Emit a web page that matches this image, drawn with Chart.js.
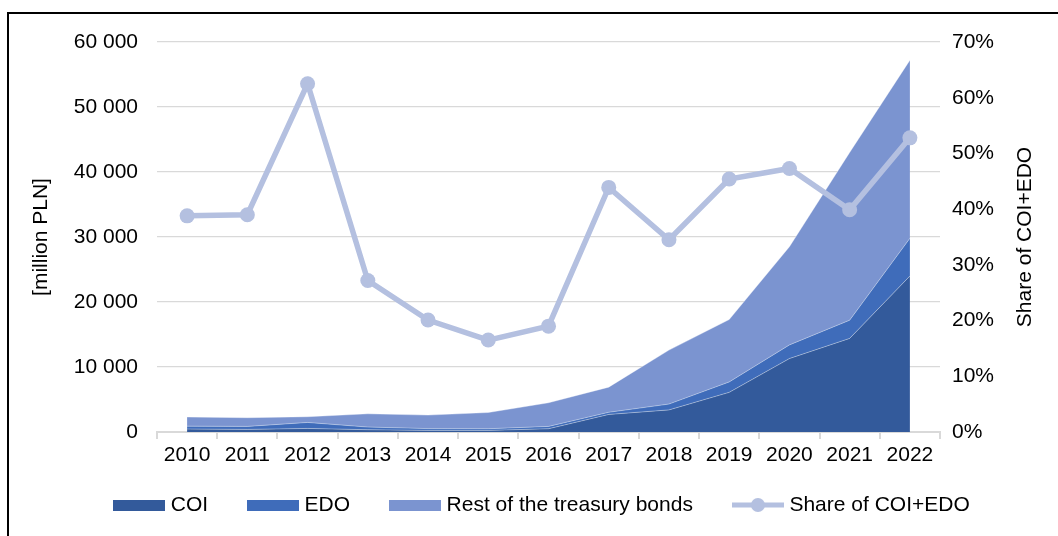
<!DOCTYPE html>
<html>
<head>
<meta charset="utf-8">
<script src="https://cdn.jsdelivr.net/npm/chart.js@4.4.0/dist/chart.umd.min.js"></script>
<style>
    html, body { margin: 0; padding: 0; background: #fff; }
    #wrap { position: relative; width: 1058px; height: 536px; overflow: hidden; }
    #frame { position: absolute; left: 7px; top: 12px; right: -10px; bottom: -10px;
             border-left: 2px solid #000; border-top: 2px solid #000; }
    canvas { position: absolute; left: 0; top: 0; }
</style>
</head>
<body>
<div id="wrap">
    <div id="frame"></div>
    <canvas id="bondsChart" width="1058" height="536"></canvas>
</div>
<script>
const years = ['2010', '2011', '2012', '2013', '2014', '2015', '2016', '2017', '2018', '2019', '2020', '2021', '2022'];

// million PLN
const coiValues = [450, 400, 550, 350, 250, 250, 500, 2700, 3400, 6100, 11300, 14400, 24000];
const edoValues = [440, 460, 920, 410, 270, 250, 360, 330, 900, 1600, 2100, 2800, 5800];
const restValues = [1410, 1340, 880, 2040, 2080, 2500, 3640, 3870, 8300, 9600, 15100, 25800, 27400];

// share of COI+EDO, %
const shareValues = [38.8, 39.0, 62.5, 27.2, 20.1, 16.5, 19.0, 43.9, 34.5, 45.4, 47.3, 39.9, 52.8];

const leftAxisTitle = '[million PLN]';
const rightAxisTitle = 'Share of COI+EDO';

const colors = {
    coi: '#335a9b',
    edo: '#3f6cba',
    rest: '#7b94d0',
    share: '#b4c0e0',
    grid: '#d9d9d9'
};

const fontFamily = '"Liberation Sans", Arial, sans-serif';
const fontSize = 21;

// legend markers: wide boxes and a line with a dot
function makeBoxMarker(color) {
    const c = document.createElement('canvas');
    c.width = 52;
    c.height = 11;
    const ctx = c.getContext('2d');
    ctx.fillStyle = color;
    ctx.fillRect(0, 0, 52, 11);
    return c;
}

function makeLineMarker(color) {
    const c = document.createElement('canvas');
    c.width = 52;
    c.height = 16;
    const ctx = c.getContext('2d');
    ctx.strokeStyle = color;
    ctx.lineWidth = 5;
    ctx.beginPath();
    ctx.moveTo(0, 8);
    ctx.lineTo(52, 8);
    ctx.stroke();
    ctx.fillStyle = color;
    ctx.beginPath();
    ctx.arc(26, 8, 7, 0, Math.PI * 2);
    ctx.fill();
    return c;
}

const legendMarkers = [
    makeBoxMarker(colors.coi),
    makeBoxMarker(colors.edo),
    makeBoxMarker(colors.rest),
    makeLineMarker(colors.share)
];

// right axis title reads bottom to top, like the left one
const rightTitlePlugin = {
    id: 'rightTitle',
    afterDraw(chart) {
        const s = chart.scales.y1;
        const ctx = chart.ctx;
        ctx.save();
        ctx.translate(s.right - 33, (s.top + s.bottom) / 2);
        ctx.rotate(-Math.PI / 2);
        ctx.font = fontSize + 'px ' + fontFamily;
        ctx.fillStyle = '#000';
        ctx.textAlign = 'center';
        ctx.textBaseline = 'middle';
        ctx.fillText(rightAxisTitle, 0, 0);
        ctx.restore();
    }
};

// pull the legend up closer to the axis labels and nudge it right
const legendShiftPlugin = {
    id: 'legendShift',
    afterLayout(chart) {
        const lg = chart.legend;
        if (!lg) return;
        lg.top -= 20.5;
        lg.bottom -= 20.5;
        lg.left += 15;
        lg.right += 15;
    }
};

Chart.defaults.font.family = fontFamily;
Chart.defaults.font.size = fontSize;
Chart.defaults.color = '#000';

const areaBorder = 'rgba(255,255,255,0.35)';

const bondsCanvas = document.getElementById('bondsChart').getContext('2d');
const bondsChart = new Chart(bondsCanvas, {
    type: 'line',
    data: {
        labels: years,
        datasets: [
            {
                label: 'COI',
                data: coiValues,
                yAxisID: 'y',
                fill: 'origin',
                backgroundColor: colors.coi,
                borderColor: areaBorder,
                borderWidth: 1,
                pointRadius: 0,
                tension: 0,
                order: 1
            },
            {
                label: 'EDO',
                data: edoValues,
                yAxisID: 'y',
                fill: '-1',
                backgroundColor: colors.edo,
                borderColor: areaBorder,
                borderWidth: 1,
                pointRadius: 0,
                tension: 0,
                order: 1
            },
            {
                label: 'Rest of the treasury bonds',
                data: restValues,
                yAxisID: 'y',
                fill: '-1',
                backgroundColor: colors.rest,
                borderColor: areaBorder,
                borderWidth: 1,
                pointRadius: 0,
                tension: 0,
                order: 1
            },
            {
                label: 'Share of COI+EDO',
                data: shareValues,
                yAxisID: 'y1',
                fill: false,
                borderColor: colors.share,
                backgroundColor: colors.share,
                borderWidth: 5.5,
                pointRadius: 7.5,
                pointBorderWidth: 0,
                pointBackgroundColor: colors.share,
                tension: 0,
                order: 0
            }
        ]
    },
    options: {
        responsive: false,
        animation: false,
        layout: {
            padding: { top: 42, left: 0, right: 0, bottom: -10 }
        },
        scales: {
            x: {
                offset: true,
                grid: {
                    offset: true,
                    drawOnChartArea: false,
                    drawTicks: true,
                    tickLength: 7,
                    color: colors.grid,
                    lineWidth: 2
                },
                border: { color: colors.grid, width: 2 },
                ticks: { padding: 4, maxRotation: 0 },
                afterFit: function(scale) {
                    scale.height = 39;
                }
            },
            y: {
                stacked: true,
                position: 'left',
                min: 0,
                max: 60000,
                grid: {
                    color: colors.grid,
                    lineWidth: 1.2,
                    drawTicks: false
                },
                border: { display: false },
                title: {
                    display: true,
                    text: leftAxisTitle,
                    padding: { top: 28.4, bottom: 0 }
                },
                ticks: {
                    stepSize: 10000,
                    padding: 19,
                    callback: function(value) {
                        return value.toString().replace(/\B(?=(\d{3})+(?!\d))/g, ' ');
                    }
                },
                afterFit: function(scale) {
                    scale.width = 157;
                }
            },
            y1: {
                position: 'right',
                min: 0,
                max: 70,
                grid: {
                    drawOnChartArea: false,
                    drawTicks: false
                },
                border: { display: false },
                ticks: {
                    stepSize: 10,
                    padding: 12,
                    callback: function(value) {
                        return value + '%';
                    }
                },
                afterFit: function(scale) {
                    scale.width = 118;
                }
            }
        },
        plugins: {
            legend: {
                position: 'bottom',
                labels: {
                    usePointStyle: true,
                    pointStyleWidth: 42,
                    boxHeight: 11,
                    padding: 44,
                    generateLabels: function(chart) {
                        const items = Chart.defaults.plugins.legend.labels.generateLabels(chart);
                        items.sort((a, b) => a.datasetIndex - b.datasetIndex);
                        items.forEach(item => {
                            item.pointStyle = legendMarkers[item.datasetIndex];
                        });
                        return items;
                    }
                }
            },
            tooltip: { enabled: false }
        }
    },
    plugins: [rightTitlePlugin, legendShiftPlugin]
});
</script>
</body>
</html>
